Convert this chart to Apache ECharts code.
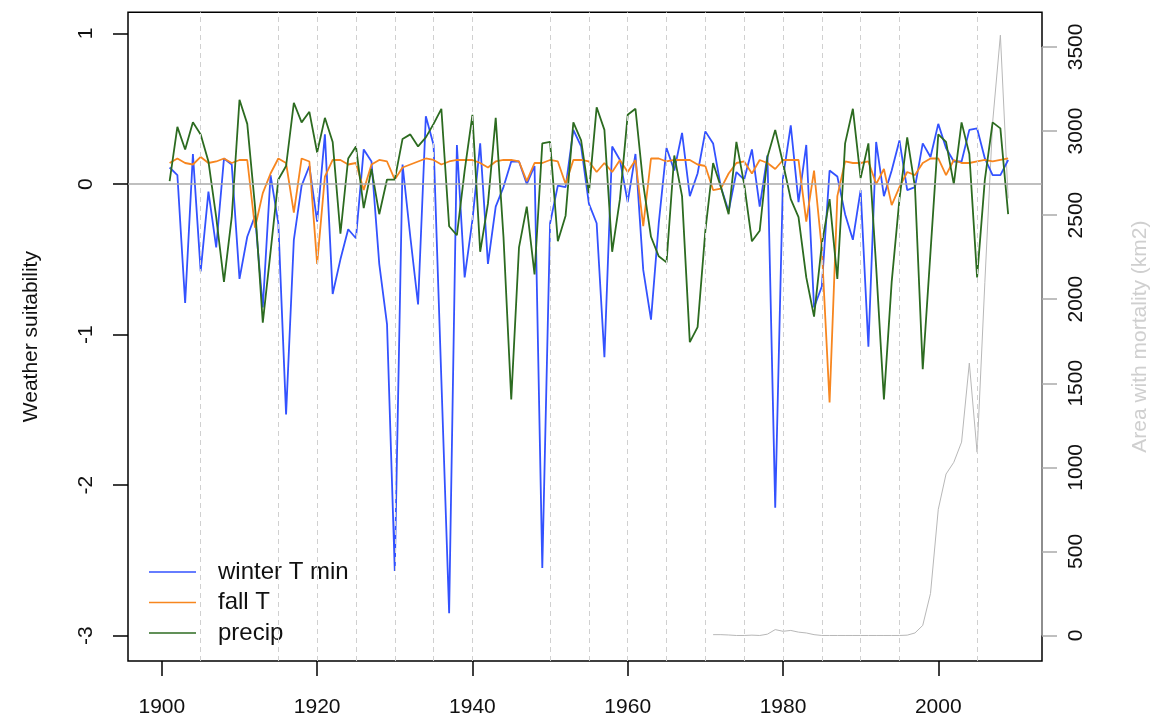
<!DOCTYPE html>
<html><head><meta charset="utf-8">
<script src="https://cdn.jsdelivr.net/npm/echarts@6/dist/echarts.min.js"></script>
<style>html,body{margin:0;padding:0;background:#fff}#c{width:1161px;height:719px}</style>
</head><body><div id="c"></div>
<script>
// ---- data ----
const firstYear = 1901;
const winterTmin = [
 0.11, 0.06,-0.79, 0.20,-0.58,-0.05,-0.42, 0.17, 0.13,-0.63,
-0.35,-0.21,-0.82, 0.06,-0.26,-1.53,-0.37,-0.01, 0.12,-0.25,
 0.33,-0.73,-0.50,-0.30,-0.36, 0.23, 0.15,-0.53,-0.93,-2.57,
 0.13,-0.35,-0.80, 0.45, 0.26,-1.30,-2.85, 0.26,-0.62,-0.24,
 0.27,-0.53,-0.15,-0.02, 0.15, 0.15, 0.00, 0.12,-2.55,-0.26,
-0.01,-0.02, 0.36, 0.25,-0.13,-0.26,-1.15, 0.25, 0.16,-0.12,
 0.20,-0.57,-0.90,-0.26, 0.24, 0.09, 0.34,-0.08, 0.07, 0.35,
 0.27,-0.02,-0.18, 0.08, 0.03, 0.23,-0.15, 0.19,-2.15, 0.04,
 0.39,-0.12, 0.26,-0.82,-0.68, 0.09, 0.05,-0.20,-0.37,-0.04,
-1.08, 0.28,-0.08, 0.09, 0.29,-0.04,-0.02, 0.27, 0.18, 0.40,
 0.24, 0.15, 0.15, 0.36, 0.37, 0.17, 0.06, 0.06, 0.16];
const fallT = [
 0.14, 0.17, 0.14, 0.13, 0.18, 0.14, 0.15, 0.17, 0.14, 0.16,
 0.16,-0.29,-0.06, 0.07, 0.17, 0.14,-0.19, 0.17, 0.15,-0.53,
 0.05, 0.16, 0.16, 0.13, 0.14,-0.04, 0.13, 0.16, 0.15, 0.03,
 0.11, 0.13, 0.15, 0.17, 0.16, 0.13, 0.15, 0.16, 0.16, 0.16,
 0.14, 0.11, 0.15, 0.16, 0.16, 0.15, 0.02, 0.14, 0.14, 0.16,
 0.15, 0.00, 0.16, 0.16, 0.15, 0.08, 0.14, 0.08, 0.16, 0.08,
 0.16,-0.28, 0.17, 0.17, 0.15, 0.16, 0.16, 0.16, 0.13, 0.12,
-0.04,-0.03, 0.07, 0.14, 0.15, 0.07, 0.16, 0.14, 0.10, 0.16,
 0.16, 0.16,-0.25, 0.09,-0.43,-1.45,-0.08, 0.15, 0.14, 0.14,
 0.15, 0.00, 0.10,-0.14,-0.02, 0.08, 0.06, 0.14, 0.17, 0.17,
 0.06, 0.16, 0.14, 0.14, 0.15, 0.16, 0.15, 0.16, 0.17];
const precip = [
 0.02, 0.38, 0.23, 0.41, 0.33, 0.15,-0.22,-0.65,-0.22, 0.56,
 0.40,-0.15,-0.92,-0.45, 0.03, 0.12, 0.54, 0.41, 0.48, 0.21,
 0.44, 0.28,-0.33, 0.17, 0.25,-0.16, 0.10,-0.20, 0.03, 0.03,
 0.30, 0.33, 0.25, 0.31, 0.40, 0.50,-0.28,-0.34, 0.09, 0.46,
-0.45,-0.13, 0.44,-0.35,-1.43,-0.42,-0.15,-0.60, 0.27, 0.28,
-0.38,-0.21, 0.41, 0.29,-0.06, 0.51, 0.36,-0.45,-0.10, 0.46,
 0.50, 0.00,-0.35,-0.48,-0.52, 0.19,-0.08,-1.05,-0.95,-0.31,
 0.14,-0.02,-0.20, 0.28, 0.00,-0.38,-0.31, 0.18, 0.36, 0.14,
-0.10,-0.22,-0.62,-0.88,-0.40,-0.10,-0.63, 0.27, 0.50, 0.04,
 0.27,-0.55,-1.43,-0.65,-0.10, 0.31,-0.02,-1.23,-0.45, 0.33,
 0.28, 0.00, 0.41, 0.20,-0.62, 0.03, 0.41, 0.37,-0.20];
const areaFirstYear = 1971;
const areaMortality = [
 5, 5, 3, 0, 0, 2, 0, 8, 35, 25,
 30, 20, 15, 5, 0, 0, 0, 0, 0, 0,
 0, 0, 0, 0, 0, 2, 15, 60, 250, 750,
 960, 1030, 1150, 1620, 1090, 2100, 3050, 3570, 2600];
const xTicks = [1900, 1920, 1940, 1960, 1980, 2000];
const leftTicks = [-3, -2, -1, 0, 1];
const rightTicks = [0, 500, 1000, 1500, 2000, 2500, 3000, 3500];
const refYears = [1905, 1915, 1920, 1925, 1930, 1935, 1940, 1950, 1955, 1960, 1965, 1970, 1975, 1980, 1985, 1990, 1995, 2005];

// ---- chart ----
const FONT = '"Liberation Sans", Arial, Helvetica, sans-serif';
const xMin = 1895.64, xMax = 2013.36;
const pairs = (start, vals) => vals.map((v, i) => [start + i, v]);

const chart = echarts.init(document.getElementById('c'), null, {renderer: 'canvas'});
const seriesLine = (name, vals, color) => ({
  name, type: 'line', data: pairs(firstYear, vals), symbol: 'none', smooth: false,
  lineStyle: {color, width: 1.8}, itemStyle: {color}, z: 3, silent: true
});
chart.setOption({
  animation: false,
  backgroundColor: '#fff',
  grid: {left: 128, right: 119, top: 12.3, bottom: 58, show: true, borderColor: '#000', borderWidth: 1.5, backgroundColor: 'transparent'},
  legend: {
    data: ['winter T min', 'fall T', 'precip'],
    orient: 'vertical', left: 149, top: 560, padding: 0,
    icon: 'rect', itemWidth: 47, itemHeight: 1.5, itemGap: 6.5,
    textStyle: {fontSize: 24, fontFamily: FONT, color: '#111', lineHeight: 24, padding: [0, 0, 0, 17]}
  },
  xAxis: {
    type: 'value', min: xMin, max: xMax,
    axisLine: {show: false, onZero: false}, splitLine: {show: false},
    axisTick: {show: true, customValues: xTicks, length: 15, lineStyle: {color: '#000', width: 1.5}},
    axisLabel: {customValues: xTicks, margin: 36, fontSize: 21, color: '#111', fontFamily: FONT, formatter: v => String(v)}
  },
  yAxis: [
    {
      type: 'value', min: -3.168, max: 1.141, position: 'left',
      name: 'Weather suitability', nameLocation: 'middle', nameRotate: 90, nameGap: 86,
      nameTextStyle: {fontSize: 21, color: '#111', fontFamily: FONT},
      axisLine: {show: false, onZero: false}, splitLine: {show: false},
      axisTick: {show: true, customValues: leftTicks, length: 15, lineStyle: {color: '#000', width: 1.5}},
      axisLabel: {customValues: leftTicks, rotate: 90, margin: 31, fontSize: 21, color: '#111', fontFamily: FONT, formatter: v => String(v)}
    },
    {
      type: 'value', min: -151.7, max: 3706, position: 'right', alignTicks: false,
      name: 'Area with mortality (km2)', nameLocation: 'middle', nameRotate: 90, nameGap: 88,
      nameTextStyle: {fontSize: 21, color: '#cfcfcf', fontFamily: FONT},
      axisLine: {show: false, onZero: false}, splitLine: {show: false},
      axisTick: {show: true, customValues: rightTicks, length: 15, lineStyle: {color: '#aaa', width: 1.5}},
      axisLabel: {customValues: rightTicks, rotate: 90, margin: 24, fontSize: 21, color: '#111', fontFamily: FONT, formatter: v => String(v)}
    }
  ],
  series: [
    {
      name: 'ref', type: 'line', data: [], symbol: 'none', silent: true, z: 1,
      markLine: {
        silent: true, symbol: ['none', 'none'], label: {show: false}, animation: false,
        lineStyle: {type: [5, 4], color: '#d0d0d0', width: 1},
        data: refYears.map(y => ({xAxis: y})).concat([{yAxis: 0, lineStyle: {type: 'solid', color: '#aaaaaa', width: 1.5}}])
      }
    },
    {
      name: 'area', type: 'line', yAxisIndex: 1, data: pairs(areaFirstYear, areaMortality), symbol: 'none',
      lineStyle: {color: '#b8b8b8', width: 1}, z: 2, silent: true,
      markLine: {
        silent: true, symbol: ['none', 'none'], label: {show: false}, animation: false,
        lineStyle: {type: 'solid', color: '#aaaaaa', width: 1.5},
        data: [[{coord: [xMax, rightTicks[0]]}, {coord: [xMax, rightTicks[rightTicks.length - 1]]}]]
      }
    },
    seriesLine('winter T min', winterTmin, '#3352ff'),
    seriesLine('fall T', fallT, '#f7861f'),
    seriesLine('precip', precip, '#2c6b20')
  ]
});
</script></body></html>
